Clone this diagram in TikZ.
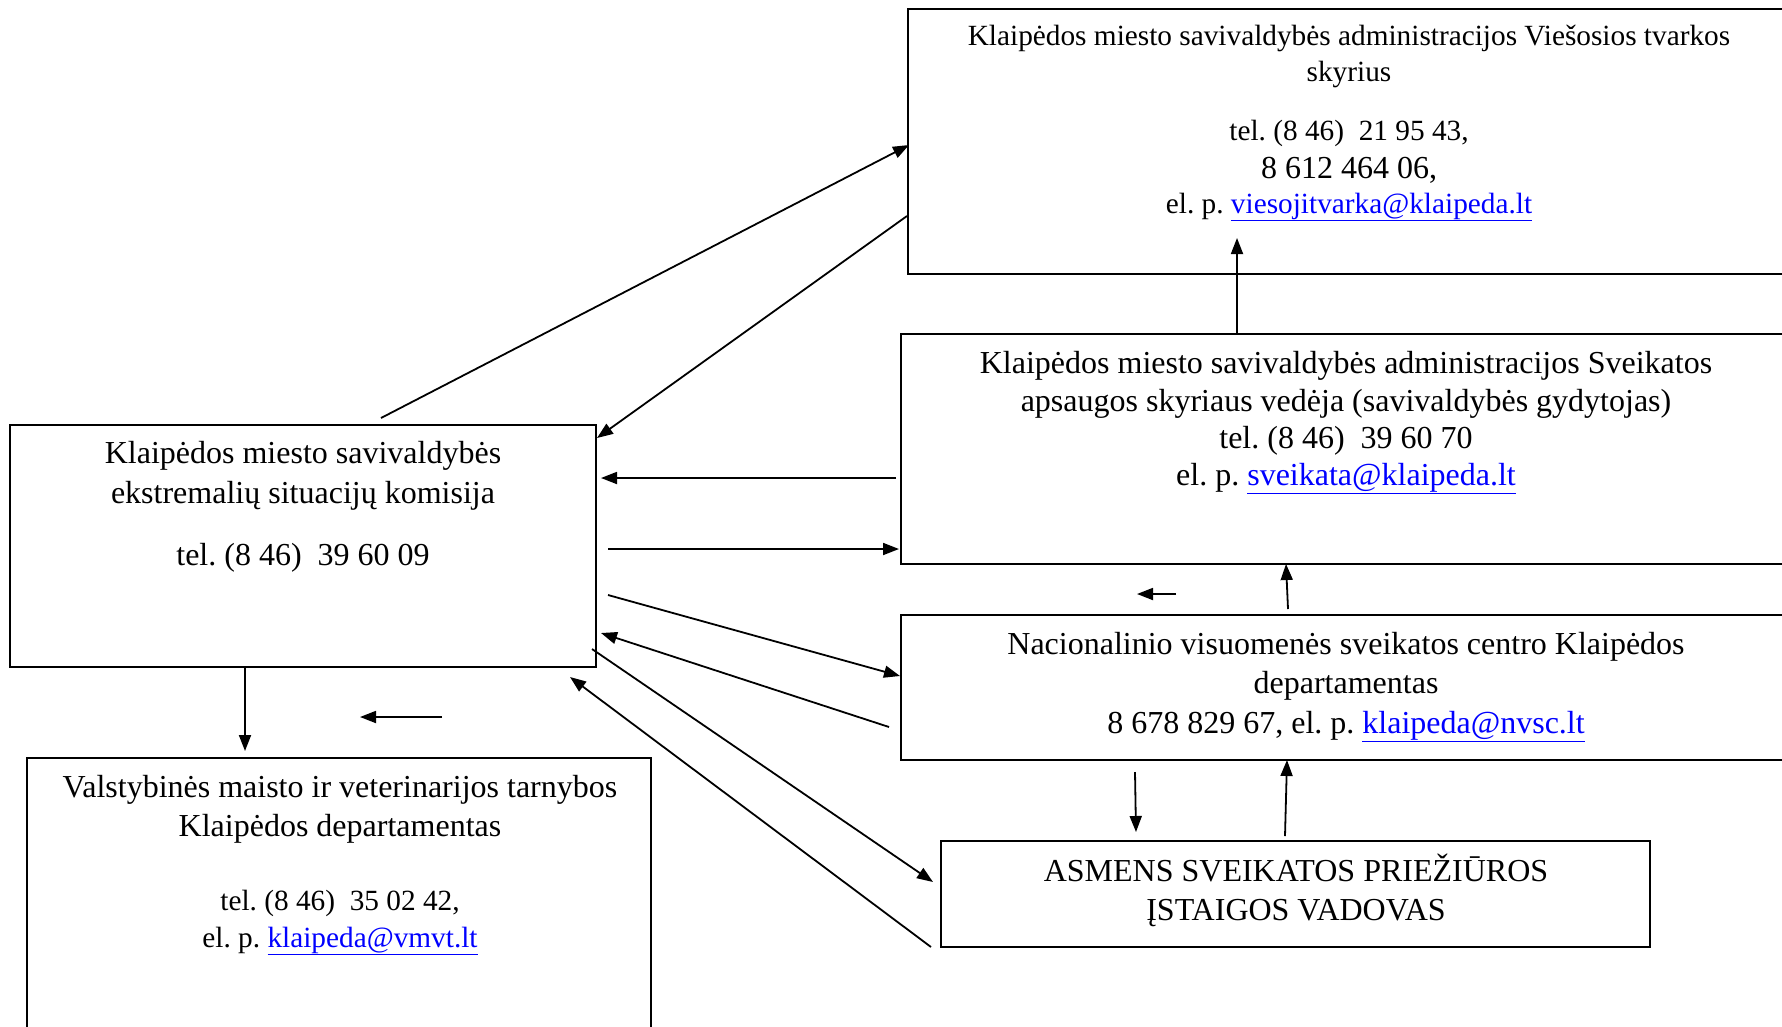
\documentclass[tikz,border=0pt]{standalone}
\usepackage{fontspec}
\setmainfont{Liberation Serif}
\usetikzlibrary{arrows.meta}
\definecolor{linkblue}{RGB}{0,0,255}
\newcommand{\lnk}[1]{\textcolor{linkblue}{\underline{#1}}}
\frenchspacing
\begin{document}
\begin{tikzpicture}[x=1pt,y=-1pt,
  box/.style={draw, line width=2pt, anchor=north west, inner sep=0pt, outer sep=0pt},
  big/.style={font=\fontsize{32}{38}\selectfont\frenchspacing, anchor=base, inner sep=0pt},
  sml/.style={font=\fontsize{29.3}{35}\selectfont\frenchspacing, anchor=base, inner sep=0pt},
  arr/.style={line width=1.8pt, -{Triangle[length=16pt,width=12pt]}}]
\path[use as bounding box, clip] (0,0) rectangle (1782,1026);
\fill[white] (0,0) rectangle (1782,1026);
% boxes
\node[box, minimum width=892pt, minimum height=265pt] (A) at (908,9) {};
\node[box, minimum width=899pt, minimum height=230pt] (B) at (901,334) {};
\node[box, minimum width=586pt, minimum height=242pt] (C) at (10,425) {};
\node[box, minimum width=624pt, minimum height=290pt] (D) at (27,758) {};
\node[box, minimum width=899pt, minimum height=145pt] (E) at (901,615) {};
\node[box, minimum width=709pt, minimum height=106pt] (F) at (941,841) {};
% texts A
\node[sml] (A1) at (1349,45) {Klaipėdos miesto savivaldybės administracijos Viešosios tvarkos};
\node[sml] (A2) at (1349,81) {skyrius};
\node[sml] (A3) at (1349,140) {tel. (8 46)\ \ 21 95 43,};
\node[big] (A4) at (1349,178) {8 612 464 06,};
\node[sml] (A5) at (1349,213) {el. p. \lnk{viesojitvarka@klaipeda.lt}};
% texts B
\node[big] (B1) at (1346,373) {Klaipėdos miesto savivaldybės administracijos Sveikatos};
\node[big] (B2) at (1346,411) {apsaugos skyriaus vedėja (savivaldybės gydytojas)};
\node[big] (B3) at (1346,448) {tel. (8 46)\ \ 39 60 70};
\node[big] (B4) at (1346,485) {el. p. \lnk{sveikata@klaipeda.lt}};
% texts C
\node[big] (C1) at (303,463) {Klaipėdos miesto savivaldybės};
\node[big] (C2) at (303,503) {ekstremalių situacijų komisija};
\node[big] (C3) at (303,565) {tel. (8 46)\ \ 39 60 09};
% texts D
\node[big] (D1) at (340,797) {Valstybinės maisto ir veterinarijos tarnybos};
\node[big] (D2) at (340,836) {Klaipėdos departamentas};
\node[sml] (D3) at (340,910) {tel. (8 46)\ \ 35 02 42,};
\node[sml] (D4) at (340,947) {el. p. \lnk{klaipeda@vmvt.lt}};
% texts E
\node[big] (E1) at (1346,654) {Nacionalinio visuomenės sveikatos centro Klaipėdos};
\node[big] (E2) at (1346,693) {departamentas};
\node[big] (E3) at (1346,733) {8 678 829 67, el. p. \lnk{klaipeda@nvsc.lt}};
% texts F
\node[big] (F1) at (1296,881) {ASMENS SVEIKATOS PRIEŽIŪROS};
\node[big] (F2) at (1296,920) {ĮSTAIGOS VADOVAS};
% connector end points
\coordinate (p1s) at (381,418);  \coordinate (p1e) at (909,145);
\coordinate (p2s) at (907,216);  \coordinate (p2e) at (597,438);
\coordinate (p3s) at (896,478);  \coordinate (p3e) at (601,478);
\coordinate (p4s) at (608,549);  \coordinate (p4e) at (899,549);
\coordinate (p5s) at (608,595);  \coordinate (p5e) at (900,676);
\coordinate (p6s) at (889,727);  \coordinate (p6e) at (601,633);
\coordinate (p7s) at (592,649);  \coordinate (p7e) at (933,882);
\coordinate (p8s) at (931,947);  \coordinate (p8e) at (570,677);
\coordinate (p9s) at (245,667);  \coordinate (p9e) at (245,751);
\coordinate (p10s) at (442,717); \coordinate (p10e) at (360,717);
\coordinate (p11s) at (1237,334); \coordinate (p11e) at (1237,238);
\coordinate (p12s) at (1288,609); \coordinate (p12e) at (1286,564);
\coordinate (p13s) at (1176,594); \coordinate (p13e) at (1137,594);
\coordinate (p14s) at (1135,772); \coordinate (p14e) at (1136,832);
\coordinate (p15s) at (1285,836); \coordinate (p15e) at (1287,760);
% connectors
\foreach \i in {1,...,15} {\draw[arr] (p\i s) -- (p\i e);}
\end{tikzpicture}
\end{document}
